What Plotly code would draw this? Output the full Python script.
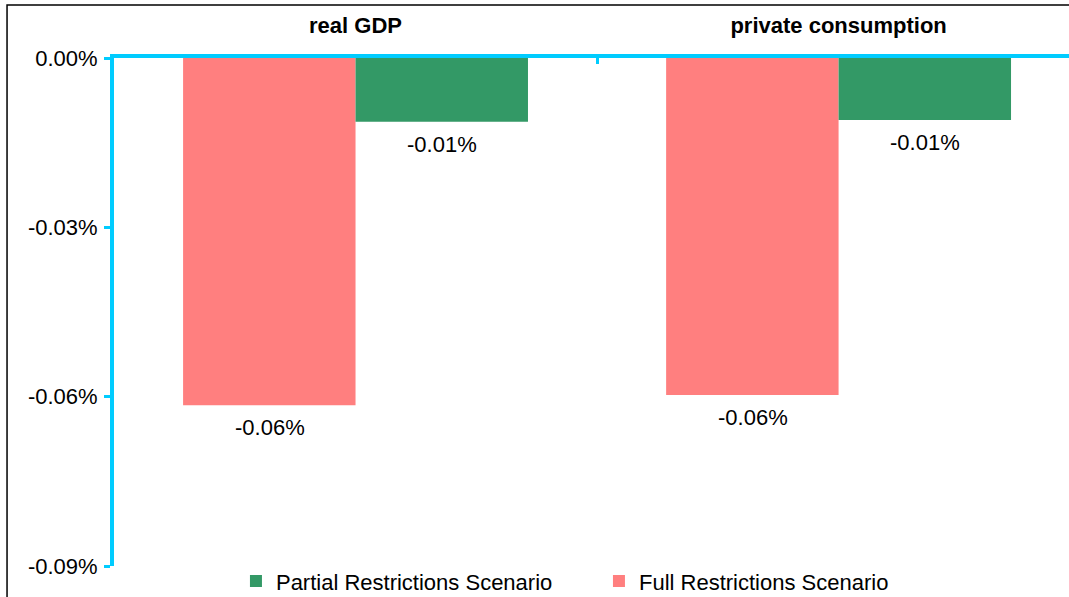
import plotly.graph_objects as go

categories = ["real GDP", "private consumption"]
full_vals = [-0.0615, -0.0597]
partial_vals = [-0.0113, -0.0110]
label_full = ["-0.06%", "-0.06%"]
label_partial = ["-0.01%", "-0.01%"]
ytick_vals = [0, -0.03, -0.06, -0.09]
ytick_text = ["0.00%", "-0.03%", "-0.06%", "-0.09%"]

RED = "#FF7F7F"
GREEN = "#339966"
CYAN = "#00CCFF"
FONT = "Liberation Sans, Arial, sans-serif"
FS = 22

fig = go.Figure()
fig.add_trace(go.Bar(x=categories, y=full_vals, name="Full Restrictions Scenario",
                     marker=dict(color=RED, line=dict(width=0))))
fig.add_trace(go.Bar(x=categories, y=partial_vals, name="Partial Restrictions Scenario",
                     marker=dict(color=GREEN, line=dict(width=0))))

for i, c in enumerate(categories):
    fig.add_annotation(x=c, y=full_vals[i], text=label_full[i], showarrow=False,
                       xshift=-86, yshift=-8, yanchor="top",
                       font=dict(size=FS, color="black", family=FONT))
    fig.add_annotation(x=c, y=partial_vals[i], text=label_partial[i], showarrow=False,
                       xshift=86, yshift=-8, yanchor="top",
                       font=dict(size=FS, color="black", family=FONT))

fig.add_shape(type="rect", xref="paper", yref="paper",
              x0=-0.112, x1=1.2, y0=-0.3, y1=1.1043,
              line=dict(color="black", width=1.5), fillcolor="rgba(0,0,0,0)")

fig.update_layout(
    width=1069, height=597,
    margin=dict(l=114, r=0, t=58, b=31, autoexpand=False),
    paper_bgcolor="white", plot_bgcolor="white",
    barmode="group", bargap=0.286, bargroupgap=0,
    font=dict(family=FONT, size=FS, color="black"),
    showlegend=True,
    legend=dict(orientation="h", traceorder="reversed",
                x=0.1277, xanchor="left", y=-0.03, yanchor="middle",
                font=dict(size=FS, color="black"), bgcolor="rgba(0,0,0,0)",
                entrywidth=318),
    xaxis=dict(side="top", type="category", range=[-0.5, 1.477],
               showline=True, linecolor=CYAN, linewidth=4,
               ticks="inside", tickson="boundaries", ticklen=6, tickwidth=3, tickcolor=CYAN,
               ticklabelstandoff=12,
               tickfont=dict(size=FS, color="black", family=FONT, weight="bold"),
               showgrid=False, zeroline=False),
    yaxis=dict(range=[-0.09, 0], tickvals=ytick_vals, ticktext=ytick_text,
               showline=True, linecolor=CYAN, linewidth=4,
               ticks="outside", ticklen=6, tickwidth=3, tickcolor=CYAN,
               ticklabelstandoff=2,
               tickfont=dict(size=FS, color="black"),
               showgrid=False, zeroline=False),
)

fig.write_html("out.html")
